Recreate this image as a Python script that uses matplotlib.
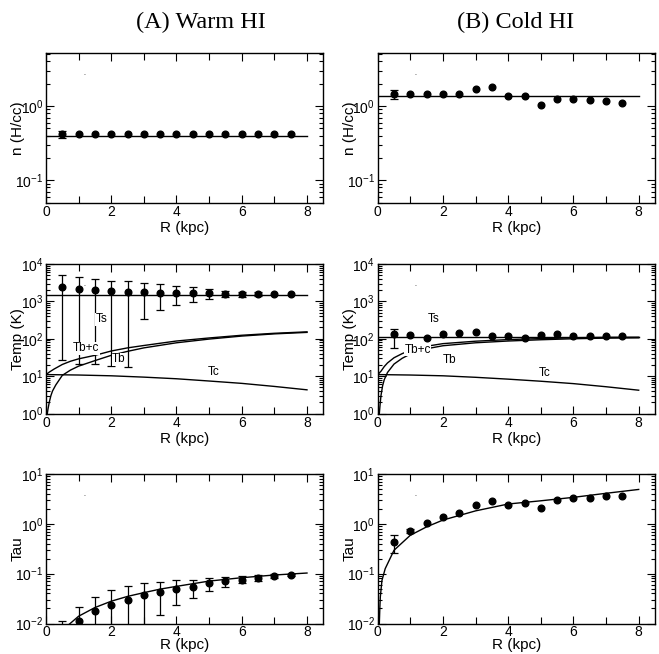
import numpy as np
import matplotlib
matplotlib.use('Agg')
import matplotlib.pyplot as plt
from matplotlib.ticker import MultipleLocator, LogLocator, NullFormatter

plt.rcParams['font.family'] = ['Liberation Sans', 'DejaVu Sans']

# galactocentric radius of the measured rings (kpc)
R = [0.5, 1.0, 1.5, 2.0, 2.5, 3.0, 3.5, 4.0, 4.5, 5.0, 5.5, 6.0, 6.5, 7.0, 7.5]
R_span = [0.0, 8.0]

# density n (H/cc)
n_warm = [0.414, 0.414, 0.414, 0.414, 0.414, 0.414, 0.414, 0.414, 0.414, 0.414, 0.414, 0.414, 0.414, 0.414, 0.414]
n_warm_fit = 0.40
n_warm_err = ([0.5], [0.366], [0.46])
n_cold = [1.45, 1.45, 1.45, 1.45, 1.45, 1.68, 1.79, 1.35, 1.35, 1.02, 1.26, 1.26, 1.19, 1.18, 1.11]
n_cold_fit = 1.38
n_cold_err = ([0.5], [1.24], [1.65])

# spin temperature Ts (K)
Ts_warm = [2460, 2130, 2000, 1880, 1810, 1730, 1700, 1660, 1630, 1630, 1600, 1600, 1570, 1570, 1570]
Ts_warm_fit = 1450
Ts_warm_err = ([0.5, 1.0, 1.5, 2.0, 2.5, 3.0, 3.5, 4.0, 4.5, 5.0, 5.5, 6.0, 6.5],
               [26.5, 21.6, 21.6, 18.3, 18.0, 330, 580, 790, 975, 1150, 1280, 1325, 1380],
               [5070, 4370, 3880, 3560, 3480, 3150, 2850, 2570, 2370, 2100, 1920, 1800, 1770])
Ts_cold = [132, 124, 105, 134, 143, 152, 122, 117, 105, 124, 134, 117, 116, 117, 116]
Ts_cold_fit = 112
Ts_cold_err = ([0.5], [58], [188])

# background (Tb), continuum (Tc) and total (Tb+c) temperature models
Tc_R = [0, 1, 2, 3, 4, 5, 6, 7, 8]
Tc_warm = [11.0, 10.7, 10.2, 9.4, 8.5, 7.4, 6.4, 5.3, 4.3]
Tc_cold = [11.0, 10.7, 10.2, 9.3, 8.3, 7.3, 6.3, 5.2, 4.2]
Tb_warm_R = [0.04, 0.06, 0.1, 0.15, 0.2, 0.3, 0.5, 0.75, 1, 1.5, 2, 2.5, 3, 4, 5, 6, 7, 8]
Tb_warm = [1.0, 1.3, 2.0, 3.0, 4.0, 5.8, 10.5, 14.5, 18.5, 26, 36, 46, 57, 78, 98, 118, 135, 148]
Tbc_warm_R = [0, 0.1, 0.25, 0.5, 0.75, 1, 1.5, 2, 2.5, 3, 4, 5, 6, 7, 8]
Tbc_warm = [11, 12.8, 15.5, 20.5, 25, 29, 36, 47, 57, 66, 87, 105, 124, 140, 153]
Tb_cold_R = [0.05, 0.08, 0.1, 0.15, 0.2, 0.3, 0.5, 0.75, 1, 1.5, 2, 3, 4, 5, 6, 7, 8]
Tb_cold = [1, 2, 3, 5.5, 8, 12.5, 21, 30, 39, 54, 65, 78, 87, 94, 100, 104, 106]
Tbc_cold_R = [0, 0.1, 0.2, 0.3, 0.5, 0.75, 1, 1.5, 2, 3, 4, 5, 6, 7, 8]
Tbc_cold = [11, 13.5, 18, 22.5, 31, 40, 49, 63, 74, 86, 95, 101, 106, 109, 110]

# optical depth
tau_warm = [0.006, 0.0111, 0.0175, 0.0238, 0.030, 0.0366, 0.042, 0.0483, 0.0537, 0.0638, 0.070, 0.0759, 0.083, 0.088, 0.094]
tau_warm_err = (R,
                [0.001, 0.001, 0.001, 0.001, 0.001, 0.001, 0.0147, 0.023, 0.0318, 0.0448, 0.0537, 0.0642, 0.071, 0.080, 0.088],
                [0.0111, 0.0213, 0.0339, 0.048, 0.0575, 0.0646, 0.0675, 0.073, 0.0747, 0.0830, 0.0853, 0.0883, 0.094, 0.097, 0.100])
tau_warm_fit_R = [0.7, 1, 1.5, 2, 2.5, 3, 3.5, 4, 5, 6, 7, 8]
tau_warm_fit = [0.0095, 0.014, 0.0209, 0.028, 0.035, 0.0416, 0.049, 0.0556, 0.071, 0.083, 0.094, 0.103]
tau_cold = [0.43, 0.72, 1.05, 1.34, 1.66, 2.37, 2.89, 2.44, 2.63, 2.06, 2.95, 3.28, 3.28, 3.55, 3.55]
tau_cold_err = ([0.5, 1.0], [0.26, 0.64], [0.59, 0.80])
tau_cold_fit_R = [0.05, 0.065, 0.08, 0.13, 0.23, 0.5, 1, 1.5, 2, 3, 4, 5, 6, 7, 8]
tau_cold_fit = [0.01, 0.02, 0.034, 0.073, 0.126, 0.295, 0.59, 0.87, 1.19, 1.82, 2.5, 2.9, 3.4, 4.1, 4.9]


def style(ax, ylo, yhi, ylabel, xpad=2, xlabelpad=1):
    ax.set_yscale('log')
    ax.set_xlim(0, 8.5)
    ax.set_ylim(ylo, yhi)
    ax.xaxis.set_major_locator(MultipleLocator(2))
    ax.xaxis.set_minor_locator(MultipleLocator(1))
    ax.yaxis.set_minor_locator(LogLocator(subs=np.arange(2, 10), numticks=20))
    ax.yaxis.set_minor_formatter(NullFormatter())
    ax.tick_params(which='both', direction='in', top=True, right=True, width=0.8)
    ax.tick_params(which='major', length=6, labelsize=10, pad=2)
    ax.tick_params(which='minor', length=3)
    ax.tick_params(axis='x', which='minor', length=5)
    ax.tick_params(axis='x', which='major', pad=xpad)
    for s in ax.spines.values():
        s.set_linewidth(1.0)
    ax.set_xlabel('R (kpc)', fontsize=11, labelpad=xlabelpad)
    ax.set_ylabel(ylabel, fontsize=11)
    ax.yaxis.set_label_coords(-0.076, 0.5)
    ax.text(0.137, 0.838, '.', transform=ax.transAxes, fontsize=5, ha='center', va='bottom')


def points(ax, y, err):
    ex, lo, hi = err
    mid = [y[R.index(x)] for x in ex]
    yerr = [np.array(mid) - np.array(lo), np.array(hi) - np.array(mid)]
    ax.errorbar(ex, mid, yerr=yerr, fmt='none', ecolor='k', elinewidth=0.9, capsize=3, capthick=0.9)
    ax.plot(R, y, 'o', color='k', ms=4.8, zorder=3)


def label(ax, x, y, s):
    ax.text(x, y, s, fontsize=8.5, ha='center', va='center', zorder=4,
            bbox=dict(facecolor='white', edgecolor='none', pad=0.5))


fig = plt.figure(figsize=(6.59, 6.54), dpi=100)
W, H = 659.0, 654.0
cols = [46, 377.7]
rows = [53, 264, 474]
aw, ah = 277.3, 149.5

axes = [[fig.add_axes([c / W, 1 - (r + ah) / H, aw / W, ah / H]) for c in cols] for r in rows]

# densities
ax = axes[0][0]
ax.plot(R_span, [n_warm_fit] * 2, 'k-', lw=1)
points(ax, n_warm, n_warm_err)
style(ax, 0.05, 5.2, 'n (H/cc)')
ax = axes[0][1]
ax.plot(R_span, [n_cold_fit] * 2, 'k-', lw=1)
points(ax, n_cold, n_cold_err)
style(ax, 0.05, 5.2, 'n (H/cc)')

# temperatures
ax = axes[1][0]
ax.plot(R_span, [Ts_warm_fit] * 2, 'k-', lw=1)
ax.plot(Tc_R, Tc_warm, 'k-', lw=1)
ax.plot(Tb_warm_R, Tb_warm, 'k-', lw=1)
ax.plot(Tbc_warm_R, Tbc_warm, 'k-', lw=1)
points(ax, Ts_warm, Ts_warm_err)
label(ax, 1.71, 330, 'Ts')
label(ax, 1.23, 55, 'Tb+c')
label(ax, 2.24, 28, 'Tb')
label(ax, 5.13, 12.9, 'Tc')
style(ax, 1, 1e4, 'Temp (K)')

ax = axes[1][1]
ax.plot(R_span, [Ts_cold_fit] * 2, 'k-', lw=1)
ax.plot(Tc_R, Tc_cold, 'k-', lw=1)
ax.plot(Tb_cold_R, Tb_cold, 'k-', lw=1)
ax.plot(Tbc_cold_R, Tbc_cold, 'k-', lw=1)
points(ax, Ts_cold, Ts_cold_err)
label(ax, 1.73, 330, 'Ts')
label(ax, 1.22, 51, 'Tb+c')
label(ax, 2.19, 26.5, 'Tb')
label(ax, 5.13, 12.4, 'Tc')
style(ax, 1, 1e4, 'Temp (K)')

# optical depths
ax = axes[2][0]
ax.plot(tau_warm_fit_R, tau_warm_fit, 'k-', lw=1)
points(ax, tau_warm, tau_warm_err)
style(ax, 0.01, 10, 'Tau', xpad=1, xlabelpad=-0.5)
ax = axes[2][1]
ax.plot(tau_cold_fit_R, tau_cold_fit, 'k-', lw=1)
points(ax, tau_cold, tau_cold_err)
style(ax, 0.01, 10, 'Tau', xpad=1, xlabelpad=-0.5)

fig.text(201 / W, 1 - 22 / H, '(A) Warm HI', family='Liberation Serif', fontsize=17.5, ha='center', va='center')
fig.text(516 / W, 1 - 22 / H, '(B) Cold HI', family='Liberation Serif', fontsize=17.5, ha='center', va='center')

plt.savefig('out.png', dpi=100)
